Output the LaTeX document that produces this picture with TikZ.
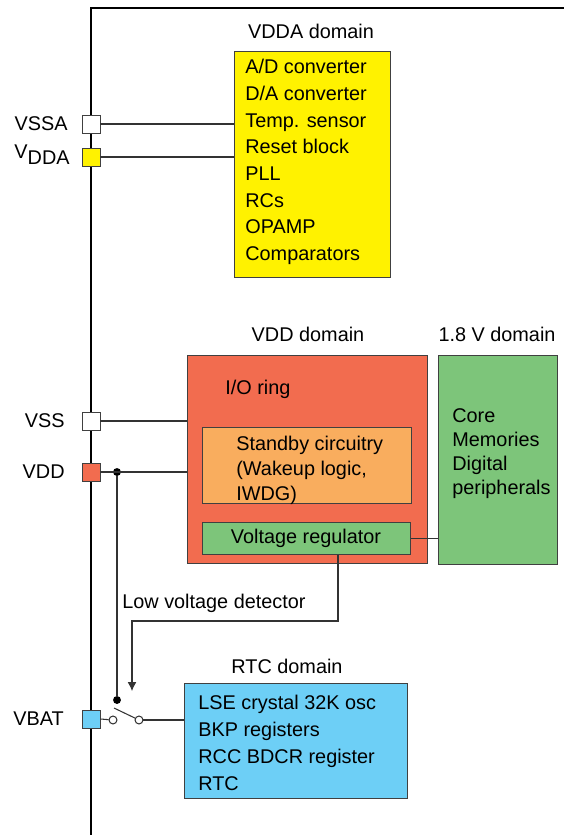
\documentclass[tikz,border=0pt]{standalone}
\usepackage{fontspec}
\setmainfont{Liberation Sans}
\usepackage{xcolor}
\usepackage{tikz}
\usetikzlibrary{arrows.meta,positioning}

\definecolor{vddayellow}{HTML}{FFF200}
\definecolor{vddred}{HTML}{F26C4F}
\definecolor{stbyorange}{HTML}{F9AD5E}
\definecolor{coregreen}{HTML}{7DC57A}
\definecolor{rtcblue}{HTML}{6DCFF6}

\begin{document}
\begin{tikzpicture}[
  x=0.02cm, y=-0.02cm,
  every node/.style={font=\fontsize{11.3}{15.2}\selectfont},
  pin/.style={
    draw=black!75, line width=0.5pt,
    minimum size=0.36cm, inner sep=0pt
  },
  dombox/.style={
    draw=black!75, line width=0.6pt,
    anchor=north west, inner sep=0pt
  },
  boxtext/.style={anchor=north west, inner sep=0pt, align=left},
  pinlabel/.style={anchor=east, inner sep=0pt},
  title/.style={inner sep=0pt},
  frame/.style={line width=1.3pt},
  wire/.style={draw=black!80, line width=0.6pt},
  arr/.style={wire, -{Latex[length=5pt,width=5pt]}},
  jdot/.style={circle, fill=black, inner sep=0pt, minimum size=4.5pt},
  odot/.style={circle, draw=black!80, fill=white, line width=0.6pt, inner sep=0pt, minimum size=4.5pt},
]
\useasboundingbox (0,0) rectangle (564,835);

%% ── Frame ───────────────────────────────────────────────────────────────────
\draw[frame] (91,835) -- (91,8) -- (564,8);

%% ── Domain boxes ────────────────────────────────────────────────────────────
\node[dombox, fill=vddayellow, minimum width=3.12cm, minimum height=4.52cm] (vdda) at (234,51) {};
\node[dombox, fill=vddred,     minimum width=4.8cm,  minimum height=4.16cm] (vdd)  at (187,355) {};
\node[dombox, fill=stbyorange,  minimum width=4.18cm, minimum height=1.52cm] (stby) at (202,427) {};
\node[dombox, fill=coregreen,   minimum width=4.16cm, minimum height=0.64cm] (vreg) at (202,522) {};
\node[dombox, fill=coregreen,   minimum width=2.38cm, minimum height=4.18cm] (core) at (438,355) {};
\node[dombox, fill=rtcblue,     minimum width=4.46cm, minimum height=2.3cm]  (rtc)  at (184,683) {};

%% ── Titles ──────────────────────────────────────────────────────────────────
\node[title] (t_vdda) at (311,31)  {VDDA domain};
\node[title] (t_vdd)  at (308,334) {VDD domain};
\node[title] (t_core) at (497,334) {1.8 V domain};
\node[title] (t_rtc)  at (287,666) {RTC domain};

%% ── Box contents ────────────────────────────────────────────────────────────
\node[boxtext] (l_vdda) at (245,59) {A/D converter\\D/A converter\\Temp. sensor\\Reset block\\PLL\\RCs\\OPAMP\\Comparators};
\node[anchor=west, inner sep=0pt] (l_io) at (225,389) {I/O ring};
\node[boxtext, font=\fontsize{11.3}{14.2}\selectfont] (l_stby) at (236,436) {Standby circuitry\\(Wakeup logic,\\IWDG)};
\node[inner sep=0pt] (l_vreg) at (306,538) {Voltage regulator};
\node[boxtext, font=\fontsize{11.3}{13.7}\selectfont] (l_core) at (452,408) {Core\\Memories\\Digital\\peripherals};
\node[boxtext, font=\fontsize{11.3}{15.4}\selectfont] (l_rtc) at (198,695) {LSE crystal 32K osc\\BKP registers\\RCC BDCR register\\RTC};

%% ── Pins ────────────────────────────────────────────────────────────────────
\node[pin, fill=white]      (p_vssa) at (91,124) {};
\node[pin, fill=vddayellow] (p_vdda) at (91,157) {};
\node[pin, fill=white]      (p_vss)  at (91,421) {};
\node[pin, fill=vddred]     (p_vdd)  at (91,472) {};
\node[pin, fill=rtcblue]    (p_vbat) at (91,719) {};

\node[pinlabel] (n_vssa) at (68,124) {VSSA};
\node[pinlabel] (n_vdda) at (70,155) {V\raisebox{-0.55ex}{DDA}};
\node[pinlabel] (n_vss)  at (65,421) {VSS};
\node[pinlabel] (n_vdd)  at (65,472) {VDD};
\node[pinlabel] (n_vbat) at (64,719) {VBAT};

%% ── Switch ──────────────────────────────────────────────────────────────────
\node[jdot] (j_vdd) at (117,472) {};
\node[jdot] (sw_top) at (117,700) {};
\node[odot] (sw_l) at (113,720) {};
\node[odot] (sw_r) at (139,720) {};
\coordinate (blade) at (114,708);
\coordinate (lvd_end) at (132,691);

\node[anchor=west, inner sep=0pt] (l_lvd) at (122,603) {Low voltage detector};

%% ── Wires ───────────────────────────────────────────────────────────────────
\draw[wire] (p_vssa.east) -- (p_vssa.east -| vdda.west);
\draw[wire] (p_vdda.east) -- (p_vdda.east -| vdda.west);
\draw[wire] (p_vss.east)  -- (p_vss.east -| vdd.west);
\draw[wire] (p_vdd.east)  -- (p_vdd.east -| vdd.west);
\draw[wire] (j_vdd) -- (sw_top);
\draw[wire] (p_vbat.east) -- (sw_l);
\draw[wire] (blade) -- (sw_r);
\draw[wire] (sw_r) -- (sw_r -| rtc.west);
\draw[wire] (vreg.east) -- (vreg.east -| core.west);
\draw[arr] (vreg.south -| 338,0) |- (132,621) -- (lvd_end);

\end{tikzpicture}
\end{document}
